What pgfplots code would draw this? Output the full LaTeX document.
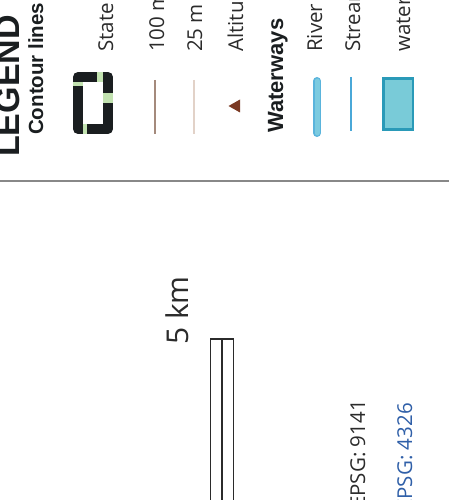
\documentclass[border=0pt]{standalone}
\usepackage{pgfplots}
\pgfplotsset{compat=1.18}
\usepackage{fontspec}
\setmainfont{Open Sans}
\newfontfamily\hfont{Liberation Sans}
\definecolor{txt}{HTML}{2B2B2B}
\definecolor{stblack}{HTML}{1A1E20}
\definecolor{stgreen}{HTML}{C2E2B0}
\definecolor{c100}{HTML}{A48A7C}
\definecolor{c25}{HTML}{E2D2C8}
\definecolor{alt}{HTML}{7B3A24}
\definecolor{rivfill}{HTML}{7CCBE0}
\definecolor{rivline}{HTML}{5AB4DC}
\definecolor{stream}{HTML}{4AA8D8}
\definecolor{wfill}{HTML}{79CBD8}
\definecolor{wline}{HTML}{2A9AB8}
\definecolor{sep}{HTML}{888888}
\definecolor{epsgblue}{HTML}{2F5FA8}
\newcommand{\lab}{\fontsize{20.5}{24}\selectfont}
\begin{document}
\begin{tikzpicture}
\clip (0,0) rectangle (449pt,500pt);
\begin{axis}[scale only axis, width=449pt, height=500pt,
  xmin=0, xmax=449, ymin=0, ymax=500, y dir=reverse,
  hide axis, at={(0,0)}, anchor=south west, clip=false]
% separator
\addplot[sep, line width=2pt] coordinates {(0,181) (449,181)};
% state boundary symbol
\addplot[stblack, line width=10pt, line join=round] coordinates {(78,77) (108,77) (108,129) (78,129)} -- cycle;
\addplot[fill=stgreen, draw=none] coordinates {(73,82) (83,82) (83,86.5) (73,86.5)} -- cycle;
\addplot[fill=stgreen, draw=none] coordinates {(97,72) (103,72) (103,82) (97,82)} -- cycle;
\addplot[fill=stgreen, draw=none] coordinates {(103,93) (113,93) (113,103) (103,103)} -- cycle;
\addplot[fill=stgreen, draw=none] coordinates {(83,124) (87,124) (87,134) (83,134)} -- cycle;
% contour lines
\addplot[c100, line width=1.3pt] coordinates {(155,80) (155,134)};
\addplot[c25, line width=1.1pt] coordinates {(194,80) (194,134)};
% altitude point
\addplot[fill=alt, draw=none] coordinates {(228.5,106) (240,99.5) (240,112.5)} -- cycle;
% river
\addplot[rivline, line width=8pt, line cap=round] coordinates {(317,81) (317,133)};
\addplot[rivfill, line width=5pt, line cap=round] coordinates {(317,81) (317,133)};
% stream
\addplot[stream, line width=2pt] coordinates {(351,77) (351,131)};
% water body
\addplot[fill=wfill, draw=wline, line width=2.5pt] coordinates {(383.5,78.5) (413,78.5) (413,129.5) (383.5,129.5)} -- cycle;
% scale bar
\addplot[draw=txt, fill=white, line width=1.4pt] coordinates {(210.5,339) (233.5,339) (233.5,520) (210.5,520)} -- cycle;
\addplot[txt, line width=1.4pt] coordinates {(222,339) (222,520)};
% texts
\node[rotate=90, anchor=base west, inner sep=0pt, text=stblack] at (axis cs:20,157) {\hfont\bfseries\fontsize{34}{40}\selectfont LEGEND};
\node[rotate=90, anchor=base west, inner sep=0pt, text=stblack] at (axis cs:43,135) {\hfont\bfseries\fontsize{20.5}{24}\selectfont Contour lines};
\node[rotate=90, anchor=base west, inner sep=0pt, text=stblack] at (axis cs:283,133) {\hfont\bfseries\fontsize{22}{26}\selectfont Waterways};
\node[rotate=90, anchor=base west, inner sep=0pt, text=txt] at (axis cs:113,52) {\lab State boundary};
\node[rotate=90, anchor=base west, inner sep=0pt, text=txt] at (axis cs:164,52) {\lab 100 m contour};
\node[rotate=90, anchor=base west, inner sep=0pt, text=txt] at (axis cs:202,52) {\lab 25 m contour};
\node[rotate=90, anchor=base west, inner sep=0pt, text=txt] at (axis cs:243,52) {\lab Altitude point};
\node[rotate=90, anchor=base west, inner sep=0pt, text=txt] at (axis cs:322,52) {\lab River};
\node[rotate=90, anchor=base west, inner sep=0pt, text=txt] at (axis cs:360,52) {\lab Stream};
\node[rotate=90, anchor=base west, inner sep=0pt, text=txt] at (axis cs:410,52) {\lab waterbody};
\node[rotate=90, anchor=base west, inner sep=0pt, text=txt] at (axis cs:188,345) {\fontsize{30}{36}\selectfont 5 km};
\node[rotate=90, anchor=base east, inner sep=0pt, text=txt] at (axis cs:365,400) {\lab EPSG: 9141};
\node[rotate=90, anchor=base east, inner sep=0pt, text=epsgblue] at (axis cs:412,403) {\lab EPSG: 4326};
\end{axis}
\end{tikzpicture}
\end{document}
